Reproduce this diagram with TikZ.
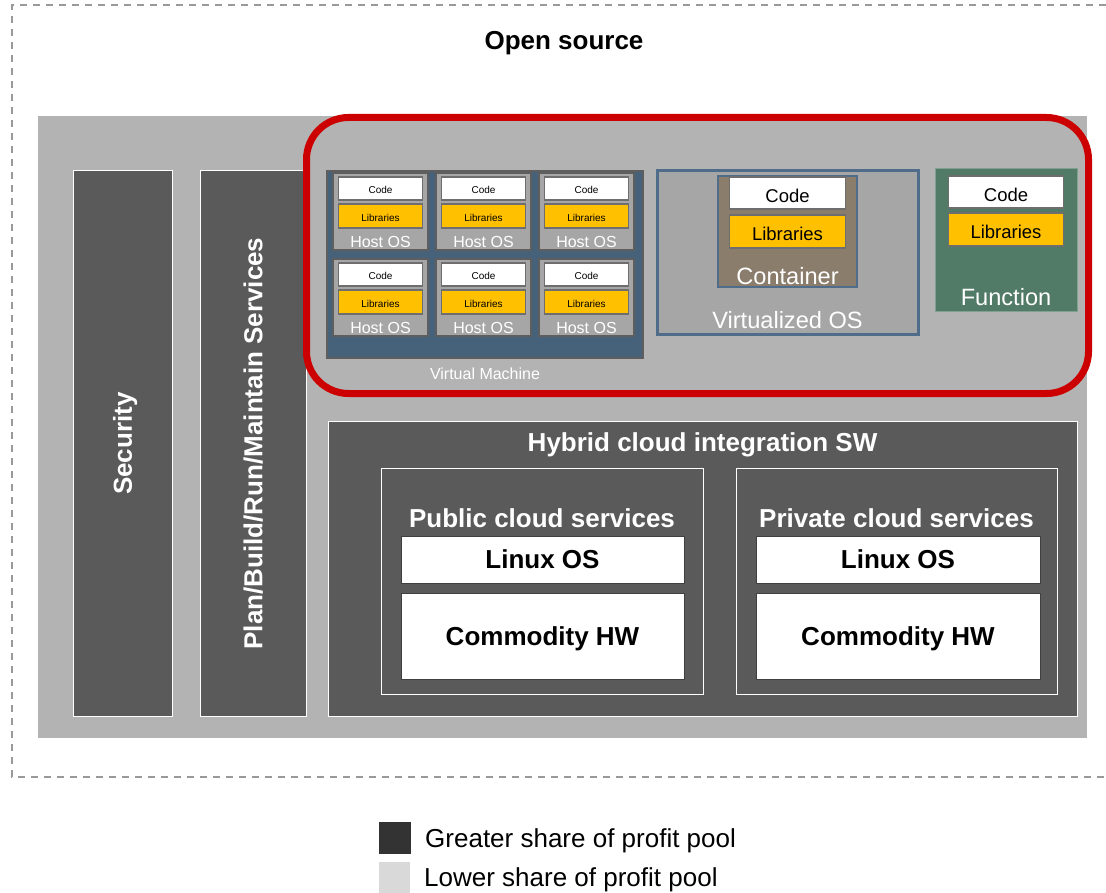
\documentclass[tikz,border=0pt]{standalone}
\usepackage{fontspec}
\setmainfont{Liberation Sans}
\usetikzlibrary{positioning, calc}
\definecolor{framegray}{RGB}{153, 153, 153}
\definecolor{poolgray}{RGB}{179, 179, 179}
\definecolor{bardark}{RGB}{90, 90, 90}
\definecolor{hilitered}{RGB}{204, 0, 0}
\definecolor{vmblue}{RGB}{70, 97, 122}
\definecolor{vmedge}{RGB}{94, 94, 94}
\definecolor{cellgray}{RGB}{166, 166, 166}
\definecolor{chipedge}{RGB}{110, 110, 110}
\definecolor{libyellow}{RGB}{255, 192, 0}
\definecolor{osblue}{RGB}{79, 108, 138}
\definecolor{contbrown}{RGB}{139, 125, 108}
\definecolor{funcgreen}{RGB}{81, 122, 103}
\definecolor{funcedge}{RGB}{130, 160, 145}
\definecolor{legenddark}{RGB}{51, 51, 51}
\definecolor{legendlight}{RGB}{217, 217, 217}

\begin{document}
\begin{tikzpicture}[x=1pt, y=-1pt,
    % Plain boxes - placed by their top left corner
    panel/.style={
        rectangle,
        anchor=north west,
        inner sep=0pt,
        outer sep=0pt
    },
    % Dark layers - greater share
    darkbar/.style={
        panel,
        fill=bardark,
        draw=white,
        line width=1pt
    },
    % White boxes in the cloud stacks
    whitebox/.style={
        panel,
        fill=white,
        draw=black!75,
        line width=1pt,
        text depth=0pt,
        font=\fontsize{26}{30}\selectfont\bfseries
    },
    % Host OS cells of the virtual machine
    hostcell/.style={
        panel,
        fill=cellgray,
        draw=vmedge,
        line width=1.5pt,
        minimum width=95pt,
        minimum height=77pt
    },
    % Code / Libraries chips
    chip/.style={
        rectangle,
        inner sep=0pt,
        outer sep=0pt,
        draw=chipedge,
        line width=1.5pt,
        text depth=0pt
    },
    smallcode/.style={chip, fill=white, minimum width=84pt, minimum height=23pt,
        text height=11pt, font=\fontsize{10}{12}\selectfont},
    smalllib/.style={chip, fill=libyellow, minimum width=84pt, minimum height=24pt,
        text height=11pt, font=\fontsize{10}{12}\selectfont},
    bigcode/.style={chip, fill=white, minimum width=116pt, minimum height=32pt,
        text height=20pt, font=\fontsize{18.5}{22}\selectfont},
    biglib/.style={chip, fill=libyellow, minimum width=116pt, minimum height=33pt,
        text height=19pt, font=\fontsize{18.5}{22}\selectfont},
    % Labels
    boldlabel/.style={
        font=\fontsize{26}{30}\selectfont\bfseries,
        text depth=0pt,
        inner sep=0pt
    },
    hostlabel/.style={
        font=\fontsize{16}{19}\selectfont,
        text=white,
        inner sep=0pt
    },
    typelabel/.style={
        font=\fontsize{23.6}{28}\selectfont,
        text=white,
        inner sep=0pt
    },
    legendtext/.style={
        font=\fontsize{26}{30}\selectfont,
        anchor=west,
        text depth=0pt,
        inner sep=0pt
    },
    % Highlight frame
    hilite/.style={
        panel,
        draw=hilitered,
        line width=7pt,
        rounded corners=42pt
    },
    outerframe/.style={
        draw=framegray,
        line width=1.5pt,
        dash pattern=on 7pt off 6pt
    }
]

\useasboundingbox (0,0) rectangle (1106,893);

% ===== OPEN SOURCE FRAME =====

\draw[outerframe] (1106,5) -- (12,5) -- (12,777) -- (1106,777);
\node[boldlabel] (opensource) at (564,40) {Open source};

% ===== PROFIT POOL BACKGROUND =====

\node[panel, fill=poolgray, minimum width=1049pt, minimum height=622pt] (pool) at (38,116) {};

% ===== VERTICAL LAYERS =====

\node[darkbar, minimum width=99pt, minimum height=545pt] (security) at (73,171) {};
\node[boldlabel, text=white, rotate=90] at (security.center) {Security};

\node[darkbar, minimum width=106pt, minimum height=545pt] (plan) at (200,171) {};
\node[boldlabel, text=white, rotate=90] at (plan.center) {Plan/Build/Run/Maintain Services};

% ===== HYBRID CLOUD =====

\node[darkbar, minimum width=749pt, minimum height=295pt] (hybrid) at (328,421) {};
\node[boldlabel, text=white] at ($(hybrid.north)+(0,21)$) {Hybrid cloud integration SW};

% Public cloud stack
\node[panel, draw=white, line width=1pt, minimum width=322pt, minimum height=226pt] (public) at (381,468) {};
\node[boldlabel, text=white] at ($(public.north)+(0,50)$) {Public cloud services};
\node[whitebox, minimum width=283pt, minimum height=47pt] (publinux) at (401,536) {Linux OS};
\node[whitebox, minimum width=283pt, minimum height=86pt] (pubhw) at (401,593) {Commodity HW};

% Private cloud stack
\node[panel, draw=white, line width=1pt, minimum width=321pt, minimum height=226pt] (private) at (736,468) {};
\node[boldlabel, text=white] at ($(private.north)+(0,50)$) {Private cloud services};
\node[whitebox, minimum width=284pt, minimum height=47pt] (privlinux) at (756,536) {Linux OS};
\node[whitebox, minimum width=284pt, minimum height=86pt] (privhw) at (756,593) {Commodity HW};

% ===== VIRTUAL MACHINE =====

\node[panel, fill=vmblue, draw=vmedge, line width=2pt, minimum width=316pt, minimum height=187pt] (vm) at (327,171) {};

\node[hostcell] (hostA) at (333,173) {};
\node[smallcode, below=4pt of hostA.north] (codeA) {Code};
\node[smalllib, below=4pt of codeA] (libA) {Libraries};
\node[hostlabel] at ($(hostA.north)+(0,69)$) {Host OS};

\node[hostcell] (hostB) at (436,173) {};
\node[smallcode, below=4pt of hostB.north] (codeB) {Code};
\node[smalllib, below=4pt of codeB] (libB) {Libraries};
\node[hostlabel] at ($(hostB.north)+(0,69)$) {Host OS};

\node[hostcell] (hostC) at (539,173) {};
\node[smallcode, below=4pt of hostC.north] (codeC) {Code};
\node[smalllib, below=4pt of codeC] (libC) {Libraries};
\node[hostlabel] at ($(hostC.north)+(0,69)$) {Host OS};

\node[hostcell] (hostD) at (333,259) {};
\node[smallcode, below=4pt of hostD.north] (codeD) {Code};
\node[smalllib, below=4pt of codeD] (libD) {Libraries};
\node[hostlabel] at ($(hostD.north)+(0,69)$) {Host OS};

\node[hostcell] (hostE) at (436,259) {};
\node[smallcode, below=4pt of hostE.north] (codeE) {Code};
\node[smalllib, below=4pt of codeE] (libE) {Libraries};
\node[hostlabel] at ($(hostE.north)+(0,69)$) {Host OS};

\node[hostcell] (hostF) at (539,259) {};
\node[smallcode, below=4pt of hostF.north] (codeF) {Code};
\node[smalllib, below=4pt of codeF] (libF) {Libraries};
\node[hostlabel] at ($(hostF.north)+(0,69)$) {Host OS};

\node[hostlabel] (vmlabel) at ($(vm.south)+(0,16)$) {Virtual Machine};

% ===== VIRTUALIZED OS / CONTAINER =====

\node[panel, fill=cellgray, draw=osblue, line width=3pt, minimum width=261pt, minimum height=164pt] (virtos) at (657,171) {};
\node[typelabel] at ($(virtos.south)+(0,-15)$) {Virtualized OS};

\node[panel, fill=contbrown, draw=osblue, line width=2pt, minimum width=139pt, minimum height=111pt] (container) at (718,176) {};
\node[bigcode, below=1pt of container.north] (contcode) {Code};
\node[biglib, below=6pt of contcode] (contlib) {Libraries};
\node[typelabel] at ($(container.south)+(0,-11)$) {Container};

% ===== FUNCTION =====

\node[panel, fill=funcgreen, draw=funcedge, line width=1pt, minimum width=142pt, minimum height=143pt] (function) at (935,169) {};
\node[bigcode, minimum width=115pt, below=7pt of function.north] (funccode) {Code};
\node[biglib, minimum width=115pt, below=5pt of funccode] (funclib) {Libraries};
\node[typelabel] at ($(function.south)+(0,-15)$) {Function};

% ===== HIGHLIGHT =====

\node[hilite, minimum width=782pt, minimum height=276pt] (highlight) at (306.5,117.5) {};

% ===== LEGEND =====

\node[panel, fill=legenddark, minimum size=32pt] (greater) at (379,822) {};
\node[legendtext, right=14pt of greater] {Greater share of profit pool};

\node[panel, fill=legendlight, minimum size=31pt] (lower) at (379,862) {};
\node[legendtext, right=14pt of lower] {Lower share of profit pool};

\end{tikzpicture}
\end{document}
